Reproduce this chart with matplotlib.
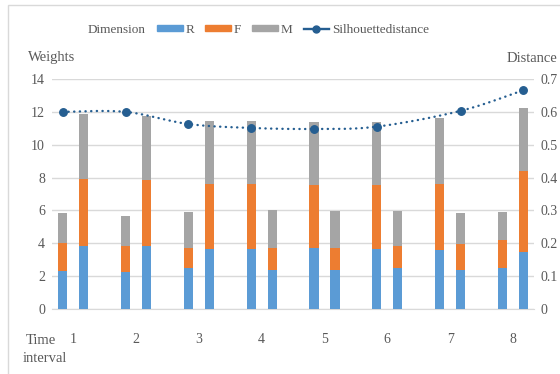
import numpy as np
import matplotlib
matplotlib.use('Agg')
import matplotlib.pyplot as plt
from matplotlib.lines import Line2D
from matplotlib.patches import Rectangle

plt.rcParams['font.family'] = ['Liberation Serif', 'DejaVu Serif']

# 시간 구간
intervals = [1, 2, 3, 4, 5, 6, 7, 8]

# 구간별 왼쪽 막대 (R, F, M 가중치)
r_left = [2.33, 2.25, 2.48, 3.68, 3.74, 3.66, 3.62, 2.48]
f_left = [1.66, 1.60, 1.26, 3.93, 3.82, 3.90, 3.96, 1.75]
m_left = [1.85, 1.83, 2.18, 3.86, 3.83, 3.83, 4.03, 1.66]

# 구간별 오른쪽 막대
r_right = [3.85, 3.85, 3.68, 2.40, 2.40, 2.48, 2.40, 3.50]
f_right = [4.06, 3.98, 3.93, 1.34, 1.34, 1.36, 1.58, 4.87]
m_right = [3.99, 3.91, 3.86, 2.26, 2.24, 2.14, 1.85, 3.87]

# 실루엣 거리 (점이 놓이는 막대: -1 왼쪽, 1 오른쪽)
distance = [0.600, 0.600, 0.563, 0.551, 0.548, 0.555, 0.603, 0.666]
distance_side = [-1, -1, -1, -1, -1, -1, 1, 1]

c_r = '#5B9BD5'
c_f = '#ED7D31'
c_m = '#A5A5A5'
c_line = '#255E91'
c_text = '#595959'
c_grid = '#D9D9D9'

offset = 0.167
width = 0.145


def smooth_curve(xs, ys, sx, sy, n=40):
    # 엑셀 스타일 부드러운 선 (베지어)
    p = np.column_stack([np.asarray(xs) * sx, np.asarray(ys) * sy])
    pad = np.vstack([p[0], p, p[-1]])
    out = []
    t = np.linspace(0, 1, n)[:, None]
    for i in range(len(p) - 1):
        p0, p1, p2, p3 = pad[i], pad[i + 1], pad[i + 2], pad[i + 3]
        c1 = p1 + (p2 - p0) / 6
        c2 = p2 - (p3 - p1) / 6
        seg = ((1 - t) ** 3) * p1 + 3 * ((1 - t) ** 2) * t * c1 + 3 * (1 - t) * t ** 2 * c2 + t ** 3 * p2
        out.append(seg if i == 0 else seg[1:])
    out = np.vstack(out)
    return out[:, 0] / sx, out[:, 1] / sy


fig = plt.figure(figsize=(5.6, 3.74), dpi=100)
ax = fig.add_axes([52 / 560, 1 - 309 / 374, 482 / 560, 230 / 374])

x = np.array(intervals, dtype=float)
xl = x - offset
xr = x + offset

bl = np.array(r_left)
ax.bar(xl, r_left, width, color=c_r, zorder=3, label='R')
ax.bar(xl, f_left, width, bottom=bl, color=c_f, zorder=3, label='F')
ax.bar(xl, m_left, width, bottom=bl + np.array(f_left), color=c_m, zorder=3, label='M')

br = np.array(r_right)
ax.bar(xr, r_right, width, color=c_r, zorder=3)
ax.bar(xr, f_right, width, bottom=br, color=c_f, zorder=3)
ax.bar(xr, m_right, width, bottom=br + np.array(f_right), color=c_m, zorder=3)

ax.set_xlim(0.661, 8.336)
ax.set_ylim(0, 14)
ax.set_yticks(np.arange(0, 15, 2))
ax.set_xticks(x)
ax.set_xticklabels([str(i) for i in intervals])
ax.grid(axis='y', color=c_grid, linewidth=1.0, zorder=0)
ax.set_axisbelow(True)
for s in ['top', 'left', 'right']:
    ax.spines[s].set_visible(False)
ax.spines['bottom'].set_color(c_grid)
ax.tick_params(axis='x', length=0, pad=17, labelsize=10, labelcolor=c_text)
ax.tick_params(axis='y', length=0, pad=5, labelsize=10, labelcolor=c_text)

# 실루엣 거리 (보조 축)
ax2 = ax.twinx()
dx = x + np.array(distance_side) * offset
sx_, sy_ = smooth_curve(dx, distance, 62.8, 328.0)
ax2.plot(sx_, sy_, color=c_line, linewidth=1.7, linestyle=(0, (0.1, 2.3)),
         dash_capstyle='round', zorder=4)
ax2.plot(dx, distance, 'o', color=c_line, markersize=5.4, zorder=5)
ax2.set_ylim(0, 0.7)
ax2.set_yticks(np.arange(0, 0.71, 0.1))
ax2.set_yticklabels(['0'] + ['%.1f' % v for v in np.arange(0.1, 0.71, 0.1)])
for s in ['top', 'left', 'right', 'bottom']:
    ax2.spines[s].set_visible(False)
ax2.tick_params(axis='y', length=0, pad=5, labelsize=10, labelcolor=c_text)

# 축 제목
fig.text(28 / 560, 1 - 58 / 374, 'Weights', ha='left', va='center', fontsize=10.5, color=c_text)
fig.text(507 / 560, 1 - 58 / 374, 'Distance', ha='left', va='center', fontsize=10.5, color=c_text)
fig.text(41 / 560, 1 - 340 / 374, 'Time', ha='center', va='center', fontsize=10.5, color=c_text)
fig.text(45 / 560, 1 - 358 / 374, 'interval', ha='center', va='center', fontsize=10.5, color=c_text)

# 범례
fig.text(88 / 560, 1 - 30 / 374, 'Dimension', ha='left', va='center', fontsize=9.5, color=c_text)
handles = [Rectangle((0, 0), 1, 1, color=c_r), Rectangle((0, 0), 1, 1, color=c_f),
           Rectangle((0, 0), 1, 1, color=c_m),
           Line2D([0], [0], color=c_line, linewidth=1.7, marker='o', markersize=5)]
leg = fig.legend(handles, ['R', 'F', 'M', 'Silhouettedistance'], ncol=4, frameon=False,
                 loc='center left', bbox_to_anchor=(157 / 560, 1 - 30 / 374),
                 borderpad=0, borderaxespad=0, handlelength=1.95, handleheight=0.35,
                 handletextpad=0.2, columnspacing=0.85, fontsize=9.5)
for t in leg.get_texts():
    t.set_color(c_text)

# 차트 영역 테두리
fig.patches.append(Rectangle((8 / 560, -0.1), 1.0, 1.1 - 5 / 374, transform=fig.transFigure,
                             fill=False, edgecolor=c_grid, linewidth=1.0))

plt.savefig('out.png', dpi=100)
